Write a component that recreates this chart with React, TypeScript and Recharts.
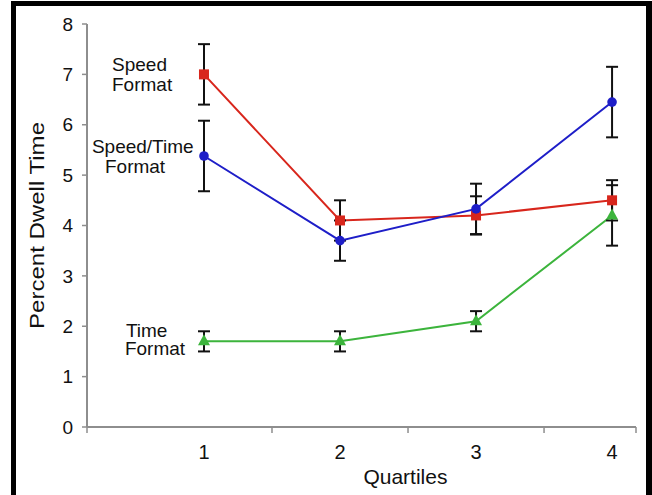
import React from 'react';
import { LineChart, Line, XAxis, YAxis, ErrorBar, ReferenceDot } from 'recharts';

const quartiles = [1, 2, 3, 4];
const speedFormat = [7.0, 4.1, 4.2, 4.5];
const speedFormatErr = [0.6, 0.4, 0.38, 0.4];
const speedTimeFormat = [5.38, 3.7, 4.33, 6.45];
const speedTimeFormatErr = [0.7, 0.4, 0.5, 0.7];
const timeFormat = [1.7, 1.7, 2.1, 4.2];
const timeFormatErr = [0.2, 0.2, 0.2, 0.6];

const yTicks = [0, 1, 2, 3, 4, 5, 6, 7, 8];
const xDomain = [0.14, 4.176];
const xTicks = [0.14, 1, 1.5, 2, 2.5, 3, 3.5, 4, 4.176];

const annotationTexts = ['Speed', 'Format', 'Speed/Time', 'Format', 'Time', 'Format'];
const annotationX = [0.324, 0.324, 0.176, 0.272, 0.426, 0.419];
const annotationY = [7.07, 6.67, 5.44, 5.04, 1.78, 1.42];

const RED = '#d8261c';
const BLUE = '#1e1ec8';
const GREEN = '#3cb43c';
const AXIS = '#8e8e8e';
const FONT = '"Liberation Sans", Arial, Helvetica, sans-serif';

const data = quartiles.map((q, i) => ({
  q,
  speed: speedFormat[i],
  speedErr: speedFormatErr[i],
  speedTime: speedTimeFormat[i],
  speedTimeErr: speedTimeFormatErr[i],
  time: timeFormat[i],
  timeErr: timeFormatErr[i],
}));

const SquareDot = (props: any) => {
  const { cx, cy, index } = props;
  if (cx == null || cy == null) return <g key={index} />;
  return <rect key={index} x={cx - 5} y={cy - 5} width={10} height={10} fill={RED} />;
};
const CircleDot = (props: any) => {
  const { cx, cy, index } = props;
  if (cx == null || cy == null) return <g key={index} />;
  return <circle key={index} cx={cx} cy={cy} r={4.8} fill={BLUE} />;
};
const TriDot = (props: any) => {
  const { cx, cy, index } = props;
  if (cx == null || cy == null) return <g key={index} />;
  return (
    <polygon
      key={index}
      points={`${cx},${cy - 7} ${cx - 6},${cy + 4} ${cx + 6},${cy + 4}`}
      fill={GREEN}
    />
  );
};

const XTick = (props: any) => {
  const { x, y, payload } = props;
  const v = payload.value;
  if (Number.isInteger(v)) {
    return (
      <text x={x} y={y + 32} textAnchor="middle" fontSize={20} fill="#111" fontFamily={FONT}>
        {v}
      </text>
    );
  }
  return <line x1={x} y1={y} x2={x} y2={y + 6} stroke={AXIS} strokeWidth={1.5} />;
};

const YLabel = (props: any) => {
  const vb = props.viewBox || { x: 0, y: 24, width: 87, height: 403 };
  const cy = vb.y + vb.height / 2;
  const bx = vb.x + 44;
  return (
    <text
      x={bx}
      y={cy}
      transform={`rotate(-90, ${bx}, ${cy})`}
      textAnchor="middle"
      fontSize={20}
      fill="#111"
      fontFamily={FONT}
      textLength={207}
      lengthAdjust="spacingAndGlyphs"
    >
      Percent Dwell Time
    </text>
  );
};

const XLabel = (props: any) => {
  const vb = props.viewBox || { x: 87, y: 427, width: 549, height: 68 };
  return (
    <text
      x={vb.x + vb.width * 0.58}
      y={vb.y + 57}
      textAnchor="middle"
      fontSize={21}
      fill="#111"
      fontFamily={FONT}
    >
      Quartiles
    </text>
  );
};

const makeAnnot = (text: string) => (props: any) => {
  const vb = props.viewBox || { x: 0, y: 0 };
  return (
    <text x={vb.x} y={vb.y} textAnchor="start" fontSize={19} fill="#111" fontFamily={FONT}>
      {text}
    </text>
  );
};

export default function App() {
  return (
    <div
      style={{
        position: 'absolute',
        left: 0,
        top: 0,
        width: 652,
        height: 495,
        background: '#fff',
        overflow: 'hidden',
        fontFamily: FONT,
      }}
    >
      <LineChart
        width={652}
        height={495}
        data={data}
        margin={{ top: 24, right: 16, bottom: 0, left: 0 }}
      >
        <XAxis
          xAxisId="main"
          type="number"
          dataKey="q"
          domain={xDomain}
          ticks={xTicks}
          interval={0}
          tickLine={false}
          tickSize={0}
          tickMargin={0}
          tick={<XTick />}
          axisLine={{ stroke: AXIS, strokeWidth: 2 }}
          height={68}
          label={<XLabel />}
          allowDataOverflow
        />
        <XAxis
          xAxisId="top"
          orientation="top"
          type="number"
          domain={xDomain}
          height={0}
          tick={false}
          tickLine={false}
          axisLine={{ stroke: '#aaaaaa', strokeWidth: 2 }}
          allowDataOverflow
        />
        <YAxis
          yAxisId="main"
          type="number"
          domain={[0, 8]}
          ticks={yTicks}
          interval={0}
          width={87}
          tickSize={5}
          tickMargin={9}
          tickLine={{ stroke: AXIS, strokeWidth: 1.5 }}
          axisLine={{ stroke: AXIS, strokeWidth: 2 }}
          tick={{ fontSize: 19, fill: '#111', fontFamily: FONT }}
          label={<YLabel />}
        />
        <YAxis
          yAxisId="right"
          orientation="right"
          type="number"
          domain={[0, 8]}
          width={0}
          tick={false}
          tickLine={false}
          axisLine={{ stroke: '#aaaaaa', strokeWidth: 2 }}
        />
        <Line
          xAxisId="main"
          yAxisId="main"
          type="linear"
          dataKey="time"
          stroke={GREEN}
          strokeWidth={2}
          dot={TriDot}
          activeDot={false}
          isAnimationActive={false}
        >
          <ErrorBar dataKey="timeErr" direction="y" width={6} stroke="#111" strokeWidth={2} />
        </Line>
        <Line
          xAxisId="main"
          yAxisId="main"
          type="linear"
          dataKey="speed"
          stroke={RED}
          strokeWidth={2}
          dot={SquareDot}
          activeDot={false}
          isAnimationActive={false}
        >
          <ErrorBar dataKey="speedErr" direction="y" width={6} stroke="#111" strokeWidth={2} />
        </Line>
        <Line
          xAxisId="main"
          yAxisId="main"
          type="linear"
          dataKey="speedTime"
          stroke={BLUE}
          strokeWidth={2}
          dot={CircleDot}
          activeDot={false}
          isAnimationActive={false}
        >
          <ErrorBar dataKey="speedTimeErr" direction="y" width={6} stroke="#111" strokeWidth={2} />
        </Line>
        {annotationTexts.map((t, i) => (
          <ReferenceDot
            key={i}
            xAxisId="main"
            yAxisId="main"
            x={annotationX[i]}
            y={annotationY[i]}
            r={0}
            fill="none"
            stroke="none"
            ifOverflow="visible"
            label={makeAnnot(t)}
          />
        ))}
      </LineChart>
      <div
        style={{
          position: 'absolute',
          left: 11,
          top: 1,
          width: 641,
          height: 600,
          boxSizing: 'border-box',
          border: '5px solid #000',
          borderRightWidth: 6,
          pointerEvents: 'none',
        }}
      />
    </div>
  );
}
